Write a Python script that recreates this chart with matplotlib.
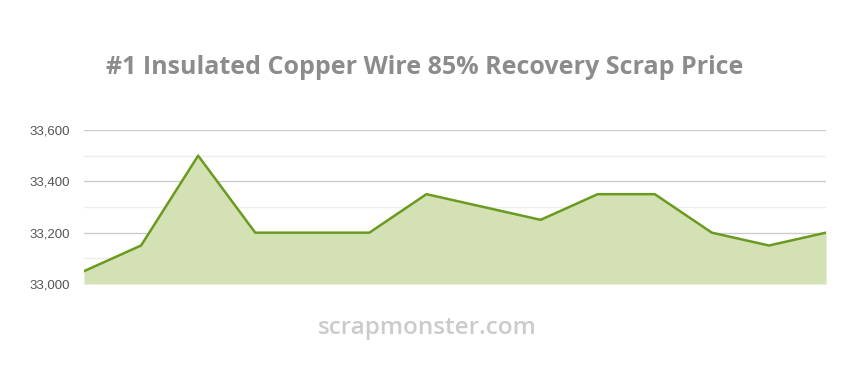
import matplotlib
matplotlib.use("Agg")
import matplotlib.pyplot as plt
from matplotlib.ticker import FuncFormatter, MultipleLocator

# price points, left to right (dates are not shown on the chart)
points = list(range(14))
prices = [33050, 33150, 33500, 33200, 33200, 33200, 33350,
          33300, 33250, 33350, 33350, 33200, 33150, 33200]
y_ticks = [33000, 33200, 33400, 33600]

title = "#1 Insulated Copper Wire 85% Recovery Scrap Price"
watermark = "scrapmonster.com"

fig = plt.figure(figsize=(8.5, 3.7), dpi=100)
ax = fig.add_axes([84 / 850, 1 - 284 / 370, (826 - 84) / 850, (284 - 130) / 370])

ax.fill_between(points, prices, 33000, color="#d3e1b5", linewidth=0, zorder=2)
ax.plot(points, prices, color="#6a9a1f", linewidth=1.8, zorder=3)

ax.set_xlim(points[0], points[-1])
ax.set_ylim(33000, 33600)
ax.set_yticks(y_ticks)
ax.yaxis.set_minor_locator(MultipleLocator(100))
ax.yaxis.set_major_formatter(FuncFormatter(lambda v, _: f"{int(v):,}"))
ax.grid(axis="y", which="major", color="#cccccc", linewidth=1, zorder=1)
ax.grid(axis="y", which="minor", color="#ececec", linewidth=1, zorder=1)
ax.set_xticks([])
for side in ax.spines.values():
    side.set_visible(False)
ax.tick_params(axis="y", which="both", length=0, pad=10)
for lbl in ax.get_yticklabels():
    lbl.set_fontfamily("Liberation Sans")
    lbl.set_fontsize(9.5)
    lbl.set_color("#555555")

fig.text(425 / 850, 1 - 68 / 370, title, ha="center", va="center",
         fontfamily="Open Sans", fontweight="bold", fontsize=18, color="#8c8c8c")
fig.text(427 / 850, 1 - 328 / 370, watermark, ha="center", va="center",
         fontfamily="Open Sans", fontweight="semibold", fontsize=17.5, color="#cbcbcb")

fig.savefig("out.png", dpi=100, facecolor="white")
